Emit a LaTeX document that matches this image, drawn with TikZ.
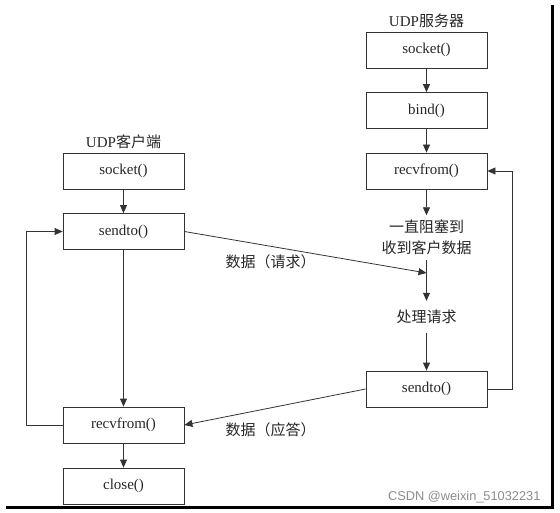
\documentclass[tikz,border=0pt]{standalone}
\usepackage{fontspec}
\setmainfont{Liberation Serif}
\newfontfamily\cjk{Noto Sans CJK SC}
\newfontfamily\marca{Liberation Sans}
\usetikzlibrary{arrows.meta}

\begin{document}
\begin{tikzpicture}[x=1pt,y=-1pt,
    every node/.style={font=\fontsize{15}{21}\selectfont,text=black!85},
    caja/.style={draw=black!80,line width=0.8pt,minimum width=121pt,minimum height=36pt,inner sep=0pt},
    texto/.style={font=\fontsize{15}{21}\selectfont\cjk,align=center,inner sep=0pt},
    flecha/.style={draw=black!80,line width=0.8pt,-{Triangle[length=8pt,width=7pt]}}]
      \useasboundingbox (0,0) rectangle (560,513);
      % Servidor (columna derecha)
      \node[texto] (stit) at (426.5,21) {{\rmfamily UDP}服务器};
      \node[caja] (ssock) at (426.5,50)    {socket()};
      \node[caja] (sbind) at (426.5,110.5) {bind()};
      \node[caja] (srecv) at (426.5,171)   {recvfrom()};
      \node[texto,minimum height=44pt] (sesp) at (426.5,237.5) {一直阻塞到\\收到客户数据};
      \node[texto,minimum height=32pt] (sproc) at (426.5,317) {处理请求};
      \node[caja] (ssend) at (426.5,389)   {sendto()};
      % Cliente (columna izquierda)
      \node[texto] (ctit) at (123.5,142) {{\rmfamily UDP}客户端};
      \node[caja] (csock) at (123.5,171)   {socket()};
      \node[caja] (csend) at (123.5,231.5) {sendto()};
      \node[caja] (crecv) at (123.5,425)   {recvfrom()};
      \node[caja] (ccerr) at (123.5,486)   {close()};
      % Etiquetas de datos
      \node[texto] (lreq) at (270.5,262) {数据（请求）};
      \node[texto] (lres) at (270.5,430) {数据（应答）};
      % Puntos de las vueltas
      \coordinate (mreq) at (426.5,273);
      \coordinate (d1) at (512,389);
      \coordinate (d2) at (512,171);
      \coordinate (i1) at (26,425);
      \coordinate (i2) at (26,231.5);
      % Flechas servidor
      \draw[flecha] (ssock) -- (sbind);
      \draw[flecha] (sbind) -- (srecv);
      \draw[flecha] (srecv) -- (sesp);
      \draw[flecha] (sesp) -- (sproc);
      \draw[flecha] (sproc) -- (ssend);
      \draw[flecha] (ssend.east) -- (d1) -- (d2) -- (srecv.east);
      % Flechas cliente
      \draw[flecha] (csock) -- (csend);
      \draw[flecha] (csend) -- (crecv);
      \draw[flecha] (crecv) -- (ccerr);
      \draw[flecha] (crecv.west) -- (i1) -- (i2) -- (csend.west);
      % Datos entre ambos
      \draw[flecha] (csend.east) -- (mreq);
      \draw[flecha] (ssend.west) -- (crecv.east);
      % Marco y marca
      \node[font=\marca\fontsize{12.8}{14}\selectfont,text=black!45,anchor=east] (wm) at (544,497) {CSDN @weixin\_51032231};
      \draw[line width=3pt] (6,507) -- (552,507) -- (552,5);
    \end{tikzpicture}
\end{document}
